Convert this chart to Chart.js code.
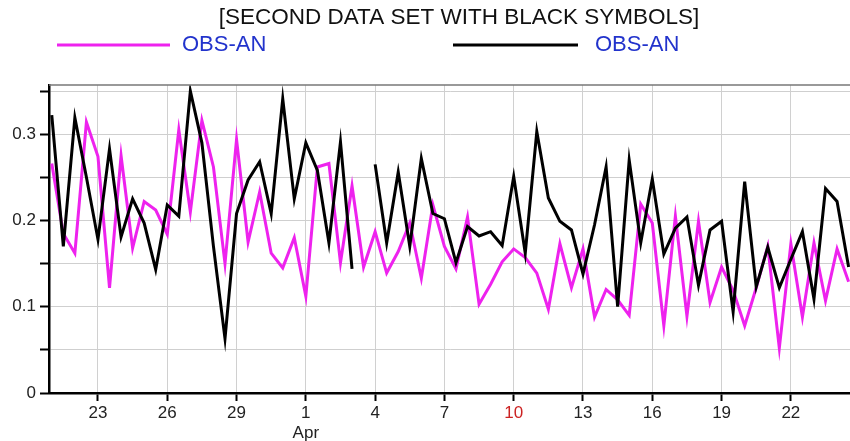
<!DOCTYPE html>
<html>
<head>
<meta charset="utf-8">
<script src="https://cdn.jsdelivr.net/npm/chart.js@4"></script>
<style>
  html, body { margin: 0; padding: 0; background: #fff; }
  #wrap { width: 850px; height: 441px; }
</style>
</head>
<body>
<div id="wrap"><canvas id="grafico"></canvas></div>
<script>
// time axis: days since 1 March, 12-hourly, starting 21 Mar 00Z
const startDay = 21;
const stepDay = 0.5;

// first series (magenta)
const serieRosa = [
  0.266, 0.185, 0.162, 0.314, 0.274, 0.122, 0.275, 0.168, 0.222, 0.212,
  0.184, 0.305, 0.210, 0.316, 0.262, 0.150, 0.294, 0.175, 0.233, 0.162,
  0.145, 0.180, 0.112, 0.262, 0.266, 0.151, 0.240, 0.146, 0.187, 0.139,
  0.164, 0.197, 0.133, 0.218, 0.170, 0.144, 0.204, 0.103, 0.126, 0.152,
  0.167, 0.157, 0.139, 0.097, 0.173, 0.122, 0.167, 0.088, 0.120, 0.108,
  0.090, 0.219, 0.197, 0.078, 0.205, 0.089, 0.199, 0.105, 0.146, 0.119,
  0.078, 0.122, 0.170, 0.052, 0.173, 0.088, 0.174, 0.107, 0.167, 0.129
];

// second series (black), one missing value
const seriePreta = [
  0.322, 0.170, 0.319, 0.250, 0.178, 0.283, 0.181, 0.225, 0.197, 0.143,
  0.218, 0.205, 0.350, 0.290, 0.170, 0.063, 0.208, 0.247, 0.268, 0.208,
  0.341, 0.225, 0.290, 0.258, 0.174, 0.291, 0.144, null, 0.265, 0.174,
  0.256, 0.170, 0.272, 0.208, 0.202, 0.151, 0.193, 0.182, 0.187, 0.171,
  0.251, 0.162, 0.303, 0.226, 0.199, 0.189, 0.138, 0.195, 0.262, 0.100,
  0.270, 0.174, 0.248, 0.161, 0.191, 0.204, 0.125, 0.189, 0.199, 0.094,
  0.245, 0.123, 0.169, 0.122, 0.155, 0.187, 0.109, 0.237, 0.222, 0.146
];

// x tick positions and their labels
const tickDias = [23, 26, 29, 32, 35, 38, 41, 44, 47, 50, 53];
const tickTextos = ['23', '26', '29', ['1', 'Apr'], '4', '7', '10', '13', '16', '19', '22'];
const yTicks = [0, 0.1, 0.2, 0.3];

const titulo = '[SECOND DATA SET WITH BLACK SYMBOLS]';
const legendaTexto = 'OBS-AN';

function pontos(valores) {
  return valores.map((v, i) => ({ x: startDay + i * stepDay, y: v }));
}

// title, legend and frame drawn by hand
const cabecalho = {
  id: 'cabecalho',
  afterDraw(chart) {
    const c = chart.ctx;
    const area = chart.chartArea;
    c.save();
    c.fillStyle = '#111';
    c.font = '22.5px "Liberation Sans", Arial, sans-serif';
    c.textAlign = 'center';
    c.textBaseline = 'middle';
    c.fillText(titulo, 459, 18);

    c.lineWidth = 3;
    c.strokeStyle = '#ee22ee';
    c.beginPath(); c.moveTo(57, 45); c.lineTo(170, 45); c.stroke();
    c.strokeStyle = '#000';
    c.beginPath(); c.moveTo(453, 45); c.lineTo(578, 45); c.stroke();

    c.fillStyle = '#2233cc';
    c.font = '22px "Liberation Sans", Arial, sans-serif';
    c.textAlign = 'left';
    c.fillText(legendaTexto, 182, 45);
    c.fillText(legendaTexto, 595, 45);

    // top frame line
    c.lineWidth = 1.5;
    c.strokeStyle = '#777';
    c.beginPath(); c.moveTo(area.left, area.top); c.lineTo(area.right, area.top); c.stroke();
    c.restore();
  }
};

const ctx = document.getElementById('grafico').getContext('2d');
new Chart(ctx, {
  type: 'line',
  data: {
    datasets: [{
      label: legendaTexto,
      data: pontos(serieRosa),
      borderColor: '#ee22ee',
      borderWidth: 3,
      pointRadius: 0,
      tension: 0,
      order: 2
    }, {
      label: legendaTexto,
      data: pontos(seriePreta),
      borderColor: '#000',
      borderWidth: 3,
      pointRadius: 0,
      tension: 0,
      spanGaps: false,
      order: 1
    }]
  },
  options: {
    responsive: true,
    maintainAspectRatio: false,
    animation: false,
    layout: { padding: { top: 85, right: 0, left: 0, bottom: 0 } },
    plugins: {
      legend: { display: false },
      tooltip: { enabled: false }
    },
    scales: {
      x: {
        type: 'linear',
        min: 20.88,
        max: 55.56,
        afterBuildTicks(axis) {
          axis.ticks = tickDias.map(v => ({ value: v }));
        },
        afterFit(axis) { axis.height = 48; },
        ticks: {
          autoSkip: false,
          maxRotation: 0,
          padding: 2,
          font: { family: '"Liberation Sans", Arial, sans-serif', size: 17 },
          color: c => (c.tick && c.tick.value === 41 ? '#cc2222' : '#222'),
          callback: v => tickTextos[tickDias.indexOf(v)]
        },
        grid: {
          color: '#d0d0d0',
          lineWidth: 1,
          tickLength: 8,
          tickColor: '#000',
          tickWidth: 2
        },
        border: { color: '#000', width: 2.5 }
      },
      y: {
        min: 0,
        max: 0.357,
        afterBuildTicks(axis) {
          axis.ticks = [0, 0.05, 0.1, 0.15, 0.2, 0.25, 0.3, 0.35].map(v => ({ value: v }));
        },
        afterFit(axis) { axis.width = 49; },
        ticks: {
          padding: 4,
          font: { family: '"Liberation Sans", Arial, sans-serif', size: 17 },
          color: '#222',
          callback: v => {
            const k = yTicks.findIndex(t => Math.abs(t - v) < 1e-6);
            return k >= 0 ? String(yTicks[k]) : '';
          }
        },
        grid: {
          color: '#cfcfcf',
          lineWidth: 1,
          tickLength: 9,
          tickColor: '#000',
          tickWidth: 2
        },
        border: { color: '#000', width: 2.5 }
      }
    }
  },
  plugins: [cabecalho]
});
</script>
</body>
</html>
